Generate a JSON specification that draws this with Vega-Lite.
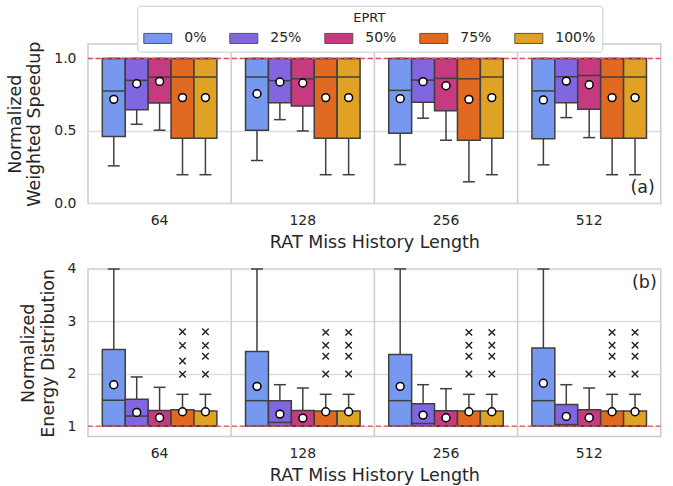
{
  "$schema": "https://vega.github.io/schema/vega-lite/v6.json",
  "background": "white",
  "padding": {"left": 5, "top": 5, "right": 0, "bottom": 0},
  "config": {
    "font": "DejaVu Sans",
    "view": {"stroke": "#cccccc", "strokeWidth": 1.5},
    "axis": {"labelFont": "DejaVu Sans", "titleFont": "DejaVu Sans", "labelFontSize": 14, "titleFontSize": 17.5, "titleFontWeight": "normal", "labelColor": "#262626", "titleColor": "#262626", "ticks": false, "domain": false, "gridColor": "#dddddd", "gridWidth": 1.3},
    "concat": {"spacing": 9}
  },
  "datasets": {
    "stats": [
      {"panel": "a", "group": "64", "eprt": "0%", "lo": 0.259, "q1": 0.461, "med": 0.776, "q3": 1.0, "hi": 1.0, "mean": 0.718},
      {"panel": "a", "group": "64", "eprt": "25%", "lo": 0.546, "q1": 0.647, "med": 0.849, "q3": 1.0, "hi": 1.0, "mean": 0.826},
      {"panel": "a", "group": "64", "eprt": "50%", "lo": 0.505, "q1": 0.693, "med": 0.872, "q3": 1.0, "hi": 1.0, "mean": 0.842},
      {"panel": "a", "group": "64", "eprt": "75%", "lo": 0.198, "q1": 0.45, "med": 0.872, "q3": 1.0, "hi": 1.0, "mean": 0.73},
      {"panel": "a", "group": "64", "eprt": "100%", "lo": 0.198, "q1": 0.45, "med": 0.872, "q3": 1.0, "hi": 1.0, "mean": 0.73},
      {"panel": "a", "group": "128", "eprt": "0%", "lo": 0.296, "q1": 0.505, "med": 0.872, "q3": 1.0, "hi": 1.0, "mean": 0.757},
      {"panel": "a", "group": "128", "eprt": "25%", "lo": 0.578, "q1": 0.695, "med": 0.847, "q3": 1.0, "hi": 1.0, "mean": 0.838},
      {"panel": "a", "group": "128", "eprt": "50%", "lo": 0.5, "q1": 0.672, "med": 0.86, "q3": 1.0, "hi": 1.0, "mean": 0.831},
      {"panel": "a", "group": "128", "eprt": "75%", "lo": 0.198, "q1": 0.45, "med": 0.872, "q3": 1.0, "hi": 1.0, "mean": 0.73},
      {"panel": "a", "group": "128", "eprt": "100%", "lo": 0.198, "q1": 0.45, "med": 0.872, "q3": 1.0, "hi": 1.0, "mean": 0.73},
      {"panel": "a", "group": "256", "eprt": "0%", "lo": 0.268, "q1": 0.484, "med": 0.78, "q3": 1.0, "hi": 1.0, "mean": 0.723},
      {"panel": "a", "group": "256", "eprt": "25%", "lo": 0.588, "q1": 0.698, "med": 0.851, "q3": 1.0, "hi": 1.0, "mean": 0.84},
      {"panel": "a", "group": "256", "eprt": "50%", "lo": 0.436, "q1": 0.64, "med": 0.863, "q3": 1.0, "hi": 1.0, "mean": 0.812},
      {"panel": "a", "group": "256", "eprt": "75%", "lo": 0.149, "q1": 0.436, "med": 0.86, "q3": 1.0, "hi": 1.0, "mean": 0.718},
      {"panel": "a", "group": "256", "eprt": "100%", "lo": 0.198, "q1": 0.45, "med": 0.872, "q3": 1.0, "hi": 1.0, "mean": 0.73},
      {"panel": "a", "group": "512", "eprt": "0%", "lo": 0.266, "q1": 0.447, "med": 0.776, "q3": 1.0, "hi": 1.0, "mean": 0.714},
      {"panel": "a", "group": "512", "eprt": "25%", "lo": 0.592, "q1": 0.695, "med": 0.874, "q3": 1.0, "hi": 1.0, "mean": 0.844},
      {"panel": "a", "group": "512", "eprt": "50%", "lo": 0.454, "q1": 0.649, "med": 0.883, "q3": 1.0, "hi": 1.0, "mean": 0.819},
      {"panel": "a", "group": "512", "eprt": "75%", "lo": 0.198, "q1": 0.45, "med": 0.872, "q3": 1.0, "hi": 1.0, "mean": 0.73},
      {"panel": "a", "group": "512", "eprt": "100%", "lo": 0.198, "q1": 0.45, "med": 0.872, "q3": 1.0, "hi": 1.0, "mean": 0.73},
      {"panel": "b", "group": "64", "eprt": "0%", "lo": 1.0, "q1": 1.0, "med": 1.492, "q3": 2.462, "hi": 4.0, "mean": 1.791},
      {"panel": "b", "group": "64", "eprt": "25%", "lo": 1.0, "q1": 1.0, "med": 1.192, "q3": 1.511, "hi": 1.939, "mean": 1.262},
      {"panel": "b", "group": "64", "eprt": "50%", "lo": 1.0, "q1": 1.0, "med": 1.0, "q3": 1.3, "hi": 1.741, "mean": 1.16},
      {"panel": "b", "group": "64", "eprt": "75%", "lo": 1.0, "q1": 1.0, "med": 1.0, "q3": 1.313, "hi": 1.607, "mean": 1.275},
      {"panel": "b", "group": "64", "eprt": "100%", "lo": 1.0, "q1": 1.0, "med": 1.0, "q3": 1.287, "hi": 1.607, "mean": 1.275},
      {"panel": "b", "group": "128", "eprt": "0%", "lo": 1.0, "q1": 1.0, "med": 1.486, "q3": 2.424, "hi": 4.0, "mean": 1.76},
      {"panel": "b", "group": "128", "eprt": "25%", "lo": 1.0, "q1": 1.0, "med": 1.07, "q3": 1.486, "hi": 1.791, "mean": 1.23},
      {"panel": "b", "group": "128", "eprt": "50%", "lo": 1.0, "q1": 1.0, "med": 1.0, "q3": 1.3, "hi": 1.728, "mean": 1.153},
      {"panel": "b", "group": "128", "eprt": "75%", "lo": 1.0, "q1": 1.0, "med": 1.0, "q3": 1.287, "hi": 1.607, "mean": 1.275},
      {"panel": "b", "group": "128", "eprt": "100%", "lo": 1.0, "q1": 1.0, "med": 1.0, "q3": 1.287, "hi": 1.607, "mean": 1.275},
      {"panel": "b", "group": "256", "eprt": "0%", "lo": 1.0, "q1": 1.0, "med": 1.486, "q3": 2.366, "hi": 4.0, "mean": 1.76},
      {"panel": "b", "group": "256", "eprt": "25%", "lo": 1.0, "q1": 1.0, "med": 1.05, "q3": 1.428, "hi": 1.791, "mean": 1.211},
      {"panel": "b", "group": "256", "eprt": "50%", "lo": 1.0, "q1": 1.0, "med": 1.0, "q3": 1.293, "hi": 1.715, "mean": 1.16},
      {"panel": "b", "group": "256", "eprt": "75%", "lo": 1.0, "q1": 1.0, "med": 1.0, "q3": 1.287, "hi": 1.607, "mean": 1.275},
      {"panel": "b", "group": "256", "eprt": "100%", "lo": 1.0, "q1": 1.0, "med": 1.0, "q3": 1.287, "hi": 1.607, "mean": 1.275},
      {"panel": "b", "group": "512", "eprt": "0%", "lo": 1.0, "q1": 1.0, "med": 1.486, "q3": 2.494, "hi": 4.0, "mean": 1.818},
      {"panel": "b", "group": "512", "eprt": "25%", "lo": 1.0, "q1": 1.0, "med": 1.03, "q3": 1.415, "hi": 1.791, "mean": 1.185},
      {"panel": "b", "group": "512", "eprt": "50%", "lo": 1.0, "q1": 1.0, "med": 1.0, "q3": 1.313, "hi": 1.728, "mean": 1.16},
      {"panel": "b", "group": "512", "eprt": "75%", "lo": 1.0, "q1": 1.0, "med": 1.0, "q3": 1.287, "hi": 1.607, "mean": 1.275},
      {"panel": "b", "group": "512", "eprt": "100%", "lo": 1.0, "q1": 1.0, "med": 1.0, "q3": 1.287, "hi": 1.607, "mean": 1.275}
    ],
    "outliers": [
      {"group": "64", "eprt": "75%", "value": 2.8}, {"group": "64", "eprt": "75%", "value": 2.54}, {"group": "64", "eprt": "75%", "value": 2.245}, {"group": "64", "eprt": "75%", "value": 1.99},
      {"group": "64", "eprt": "100%", "value": 2.8}, {"group": "64", "eprt": "100%", "value": 2.54}, {"group": "64", "eprt": "100%", "value": 2.335}, {"group": "64", "eprt": "100%", "value": 1.99},
      {"group": "128", "eprt": "75%", "value": 2.79}, {"group": "128", "eprt": "75%", "value": 2.546}, {"group": "128", "eprt": "75%", "value": 2.335}, {"group": "128", "eprt": "75%", "value": 1.996},
      {"group": "128", "eprt": "100%", "value": 2.79}, {"group": "128", "eprt": "100%", "value": 2.546}, {"group": "128", "eprt": "100%", "value": 2.335}, {"group": "128", "eprt": "100%", "value": 1.996},
      {"group": "256", "eprt": "75%", "value": 2.79}, {"group": "256", "eprt": "75%", "value": 2.546}, {"group": "256", "eprt": "75%", "value": 2.335}, {"group": "256", "eprt": "75%", "value": 1.996},
      {"group": "256", "eprt": "100%", "value": 2.79}, {"group": "256", "eprt": "100%", "value": 2.546}, {"group": "256", "eprt": "100%", "value": 2.335}, {"group": "256", "eprt": "100%", "value": 1.996},
      {"group": "512", "eprt": "75%", "value": 2.79}, {"group": "512", "eprt": "75%", "value": 2.546}, {"group": "512", "eprt": "75%", "value": 2.335}, {"group": "512", "eprt": "75%", "value": 1.996},
      {"group": "512", "eprt": "100%", "value": 2.79}, {"group": "512", "eprt": "100%", "value": 2.546}, {"group": "512", "eprt": "100%", "value": 2.335}, {"group": "512", "eprt": "100%", "value": 1.996}
    ]
  },
  "vconcat": [
    {
      "width": 572.8,
      "height": 159.4,
      "data": {"name": "stats"},
      "transform": [{"filter": "datum.panel == 'a'"}],
      "layer": [
        {
          "transform": [{"filter": "datum.eprt == '0%' && datum.group != '64'"}],
          "mark": {"type": "rule", "color": "#cccccc", "strokeWidth": 1.5},
          "encoding": {
            "x": {"field": "group", "type": "nominal", "sort": ["64", "128", "256", "512"], "bandPosition": 0, "scale": {"paddingInner": 0, "paddingOuter": 0}, "axis": {"labelAngle": 0, "title": "RAT Miss History Length", "grid": false, "titlePadding": 6, "labelPadding": 10}}
          }
        },
        {
          "mark": {"type": "rule", "color": "#3f3f3f", "strokeWidth": 1.5},
          "encoding": {
            "x": {"field": "group", "type": "nominal", "sort": ["64", "128", "256", "512"], "scale": {"paddingInner": 0, "paddingOuter": 0}, "axis": {"labelAngle": 0, "title": "RAT Miss History Length", "grid": false, "titlePadding": 6, "labelPadding": 10}},
            "xOffset": {"field": "eprt", "type": "nominal", "sort": ["0%", "25%", "50%", "75%", "100%"], "scale": {"paddingInner": 0, "paddingOuter": 0.625}},
            "y": {"field": "lo", "type": "quantitative"},
            "y2": {"field": "q1"}
          }
        },
        {
          "mark": {"type": "tick", "color": "#3f3f3f", "thickness": 1.5, "size": 12, "opacity": 1},
          "encoding": {
            "x": {"field": "group", "type": "nominal", "sort": ["64", "128", "256", "512"], "scale": {"paddingInner": 0, "paddingOuter": 0}, "axis": {"labelAngle": 0, "title": "RAT Miss History Length", "grid": false, "titlePadding": 6, "labelPadding": 10}},
            "xOffset": {"field": "eprt", "type": "nominal", "sort": ["0%", "25%", "50%", "75%", "100%"], "scale": {"paddingInner": 0, "paddingOuter": 0.625}},
            "y": {"field": "lo", "type": "quantitative"}
          }
        },
        {
          "mark": {"type": "bar", "stroke": "#3f3f3f", "strokeWidth": 1.5, "opacity": 1},
          "encoding": {
            "x": {"field": "group", "type": "nominal", "sort": ["64", "128", "256", "512"], "scale": {"paddingInner": 0, "paddingOuter": 0}, "axis": {"labelAngle": 0, "title": "RAT Miss History Length", "grid": false, "titlePadding": 6, "labelPadding": 10}},
            "xOffset": {"field": "eprt", "type": "nominal", "sort": ["0%", "25%", "50%", "75%", "100%"], "scale": {"paddingInner": 0, "paddingOuter": 0.625}},
            "y": {"field": "q1", "type": "quantitative", "scale": {"domain": [0, 1.1], "nice": false, "zero": false}, "axis": {"values": [0, 0.5, 1], "format": ".1f", "title": ["Normalized", "Weighted Speedup"], "grid": true, "titlePadding": 10, "labelPadding": 12}},
            "y2": {"field": "q3"},
            "color": {
              "field": "eprt", "type": "nominal", "sort": ["0%", "25%", "50%", "75%", "100%"],
              "scale": {"domain": ["0%", "25%", "50%", "75%", "100%"], "range": ["#7698ef", "#8266e0", "#c63a80", "#e06a22", "#e0a224"]},
              "legend": {"title": "EPRT", "orient": "none", "legendX": 49.3, "legendY": -38.3, "direction": "horizontal", "titleAnchor": "middle", "titleFontSize": 13, "titleFontWeight": "normal", "titleColor": "#262626", "labelColor": "#262626", "labelFontSize": 14, "symbolType": "M-2,-0.72H2V0.72H-2Z", "symbolSize": 196, "symbolStrokeColor": "#555555", "symbolStrokeWidth": 1, "symbolOffset": 7, "labelOffset": 19, "columnPadding": 20, "padding": 6, "strokeColor": "#cccccc", "fillColor": "white", "cornerRadius": 3, "titlePadding": 6}
            }
          }
        },
        {
          "mark": {"type": "rule", "color": "#3f3f3f", "strokeWidth": 1.5},
          "encoding": {
            "x": {"field": "group", "type": "nominal", "sort": ["64", "128", "256", "512"], "scale": {"paddingInner": 0, "paddingOuter": 0}, "axis": {"labelAngle": 0, "title": "RAT Miss History Length", "grid": false, "titlePadding": 6, "labelPadding": 10}},
            "xOffset": {"field": "eprt", "type": "nominal", "sort": ["0%", "25%", "50%", "75%", "100%"], "scale": {"paddingInner": 0, "paddingOuter": 0.625}},
            "y": {"field": "q3", "type": "quantitative"},
            "y2": {"field": "hi"}
          }
        },
        {
          "mark": {"type": "tick", "color": "#3f3f3f", "thickness": 1.5, "size": 12, "opacity": 1},
          "encoding": {
            "x": {"field": "group", "type": "nominal", "sort": ["64", "128", "256", "512"], "scale": {"paddingInner": 0, "paddingOuter": 0}, "axis": {"labelAngle": 0, "title": "RAT Miss History Length", "grid": false, "titlePadding": 6, "labelPadding": 10}},
            "xOffset": {"field": "eprt", "type": "nominal", "sort": ["0%", "25%", "50%", "75%", "100%"], "scale": {"paddingInner": 0, "paddingOuter": 0.625}},
            "y": {"field": "hi", "type": "quantitative"}
          }
        },
        {
          "mark": {"type": "tick", "color": "#3f3f3f", "thickness": 1.5, "size": 22.9, "opacity": 1},
          "encoding": {
            "x": {"field": "group", "type": "nominal", "sort": ["64", "128", "256", "512"], "scale": {"paddingInner": 0, "paddingOuter": 0}, "axis": {"labelAngle": 0, "title": "RAT Miss History Length", "grid": false, "titlePadding": 6, "labelPadding": 10}},
            "xOffset": {"field": "eprt", "type": "nominal", "sort": ["0%", "25%", "50%", "75%", "100%"], "scale": {"paddingInner": 0, "paddingOuter": 0.625}},
            "y": {"field": "med", "type": "quantitative"}
          }
        },
        {
          "data": {"values": [{"ref": 1}]},
          "mark": {"type": "rule", "color": "#e0505a", "strokeWidth": 1.4, "strokeDash": [5, 3]},
          "encoding": {"y": {"field": "ref", "type": "quantitative"}}
        },
        {
          "mark": {"type": "point", "filled": true, "fill": "white", "stroke": "black", "strokeWidth": 1.5, "size": 62, "opacity": 1},
          "encoding": {
            "x": {"field": "group", "type": "nominal", "sort": ["64", "128", "256", "512"], "scale": {"paddingInner": 0, "paddingOuter": 0}, "axis": {"labelAngle": 0, "title": "RAT Miss History Length", "grid": false, "titlePadding": 6, "labelPadding": 10}},
            "xOffset": {"field": "eprt", "type": "nominal", "sort": ["0%", "25%", "50%", "75%", "100%"], "scale": {"paddingInner": 0, "paddingOuter": 0.625}},
            "y": {"field": "mean", "type": "quantitative"}
          }
        },
        {
          "data": {"values": [{"label": "(a)", "group": "512", "pos": 0.108}]},
          "mark": {"type": "text", "align": "right", "baseline": "middle", "fontSize": 17.5, "color": "#262626", "dx": -6},
          "encoding": {
            "x": {"field": "group", "type": "nominal", "sort": ["64", "128", "256", "512"], "bandPosition": 1},
            "y": {"field": "pos", "type": "quantitative"},
            "text": {"field": "label"}
          }
        }
      ]
    },
    {
      "width": 572.8,
      "height": 167.6,
      "data": {"name": "stats"},
      "transform": [{"filter": "datum.panel == 'b'"}],
      "layer": [
        {
          "transform": [{"filter": "datum.eprt == '0%' && datum.group != '64'"}],
          "mark": {"type": "rule", "color": "#cccccc", "strokeWidth": 1.5},
          "encoding": {
            "x": {"field": "group", "type": "nominal", "sort": ["64", "128", "256", "512"], "bandPosition": 0, "scale": {"paddingInner": 0, "paddingOuter": 0}, "axis": {"labelAngle": 0, "title": "RAT Miss History Length", "grid": false, "titlePadding": 6, "labelPadding": 10}}
          }
        },
        {
          "mark": {"type": "rule", "color": "#3f3f3f", "strokeWidth": 1.5},
          "encoding": {
            "x": {"field": "group", "type": "nominal", "sort": ["64", "128", "256", "512"], "scale": {"paddingInner": 0, "paddingOuter": 0}, "axis": {"labelAngle": 0, "title": "RAT Miss History Length", "grid": false, "titlePadding": 6, "labelPadding": 10}},
            "xOffset": {"field": "eprt", "type": "nominal", "sort": ["0%", "25%", "50%", "75%", "100%"], "scale": {"paddingInner": 0, "paddingOuter": 0.625}},
            "y": {"field": "q3", "type": "quantitative"},
            "y2": {"field": "hi"}
          }
        },
        {
          "mark": {"type": "tick", "color": "#3f3f3f", "thickness": 1.5, "size": 12, "opacity": 1},
          "encoding": {
            "x": {"field": "group", "type": "nominal", "sort": ["64", "128", "256", "512"], "scale": {"paddingInner": 0, "paddingOuter": 0}, "axis": {"labelAngle": 0, "title": "RAT Miss History Length", "grid": false, "titlePadding": 6, "labelPadding": 10}},
            "xOffset": {"field": "eprt", "type": "nominal", "sort": ["0%", "25%", "50%", "75%", "100%"], "scale": {"paddingInner": 0, "paddingOuter": 0.625}},
            "y": {"field": "hi", "type": "quantitative"}
          }
        },
        {
          "mark": {"type": "bar", "stroke": "#3f3f3f", "strokeWidth": 1.5, "opacity": 1},
          "encoding": {
            "x": {"field": "group", "type": "nominal", "sort": ["64", "128", "256", "512"], "scale": {"paddingInner": 0, "paddingOuter": 0}, "axis": {"labelAngle": 0, "title": "RAT Miss History Length", "grid": false, "titlePadding": 6, "labelPadding": 10}},
            "xOffset": {"field": "eprt", "type": "nominal", "sort": ["0%", "25%", "50%", "75%", "100%"], "scale": {"paddingInner": 0, "paddingOuter": 0.625}},
            "y": {"field": "q1", "type": "quantitative", "scale": {"domain": [0.8, 4], "nice": false, "zero": false}, "axis": {"values": [1, 2, 3, 4], "format": "d", "title": ["Normalized", "Energy Distribution"], "grid": true, "titlePadding": 10, "labelPadding": 12}},
            "y2": {"field": "q3"},
            "color": {
              "field": "eprt", "type": "nominal", "sort": ["0%", "25%", "50%", "75%", "100%"],
              "scale": {"domain": ["0%", "25%", "50%", "75%", "100%"], "range": ["#7698ef", "#8266e0", "#c63a80", "#e06a22", "#e0a224"]},
              "legend": null
            }
          }
        },
        {
          "mark": {"type": "tick", "color": "#3f3f3f", "thickness": 1.5, "size": 22.9, "opacity": 1},
          "encoding": {
            "x": {"field": "group", "type": "nominal", "sort": ["64", "128", "256", "512"], "scale": {"paddingInner": 0, "paddingOuter": 0}, "axis": {"labelAngle": 0, "title": "RAT Miss History Length", "grid": false, "titlePadding": 6, "labelPadding": 10}},
            "xOffset": {"field": "eprt", "type": "nominal", "sort": ["0%", "25%", "50%", "75%", "100%"], "scale": {"paddingInner": 0, "paddingOuter": 0.625}},
            "y": {"field": "med", "type": "quantitative"}
          }
        },
        {
          "data": {"name": "outliers"},
          "mark": {"type": "point", "shape": "M-1,-1L1,1M1,-1L-1,1", "filled": false, "stroke": "#222222", "strokeWidth": 1.4, "size": 42, "opacity": 1},
          "encoding": {
            "x": {"field": "group", "type": "nominal", "sort": ["64", "128", "256", "512"], "scale": {"paddingInner": 0, "paddingOuter": 0}, "axis": {"labelAngle": 0, "title": "RAT Miss History Length", "grid": false, "titlePadding": 6, "labelPadding": 10}},
            "xOffset": {"field": "eprt", "type": "nominal", "sort": ["0%", "25%", "50%", "75%", "100%"], "scale": {"paddingInner": 0, "paddingOuter": 0.625}},
            "y": {"field": "value", "type": "quantitative"}
          }
        },
        {
          "data": {"values": [{"ref": 1}]},
          "mark": {"type": "rule", "color": "#e0505a", "strokeWidth": 1.4, "strokeDash": [5, 3]},
          "encoding": {"y": {"field": "ref", "type": "quantitative"}}
        },
        {
          "mark": {"type": "point", "filled": true, "fill": "white", "stroke": "black", "strokeWidth": 1.5, "size": 62, "opacity": 1},
          "encoding": {
            "x": {"field": "group", "type": "nominal", "sort": ["64", "128", "256", "512"], "scale": {"paddingInner": 0, "paddingOuter": 0}, "axis": {"labelAngle": 0, "title": "RAT Miss History Length", "grid": false, "titlePadding": 6, "labelPadding": 10}},
            "xOffset": {"field": "eprt", "type": "nominal", "sort": ["0%", "25%", "50%", "75%", "100%"], "scale": {"paddingInner": 0, "paddingOuter": 0.625}},
            "y": {"field": "mean", "type": "quantitative"}
          }
        },
        {
          "data": {"values": [{"label": "(b)", "group": "512", "pos": 3.73}]},
          "mark": {"type": "text", "align": "right", "baseline": "middle", "fontSize": 17.5, "color": "#262626", "dx": -4},
          "encoding": {
            "x": {"field": "group", "type": "nominal", "sort": ["64", "128", "256", "512"], "bandPosition": 1},
            "y": {"field": "pos", "type": "quantitative"},
            "text": {"field": "label"}
          }
        }
      ]
    }
  ]
}
